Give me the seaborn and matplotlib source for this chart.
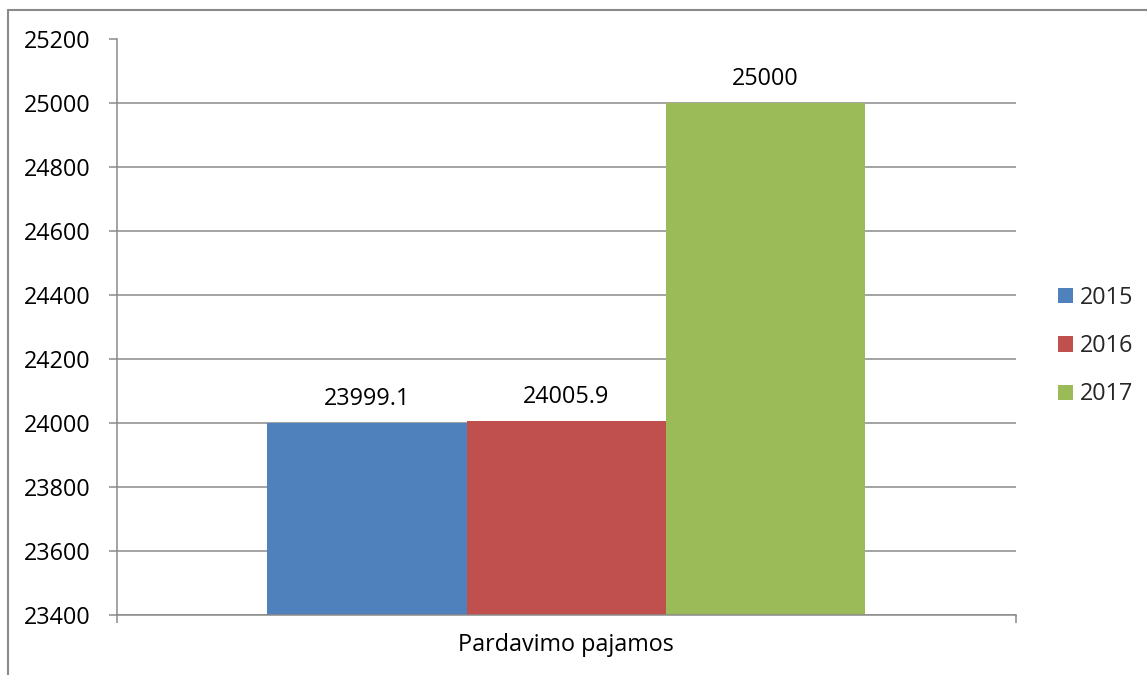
import matplotlib
matplotlib.use("Agg")
import matplotlib.pyplot as plt
from matplotlib.lines import Line2D
import seaborn as sns
import pandas as pd

categories = ["Pardavimo pajamos"]
years = ["2015", "2016", "2017"]
values = [23999.1, 24005.9, 25000]
value_labels = ["23999.1", "24005.9", "25000"]
colors = ["#4F81BD", "#C0504D", "#9BBB59"]
y_ticks = list(range(23400, 25201, 200))

sns.set_theme(style="white")
plt.rcParams["font.family"] = ["Open Sans", "DejaVu Sans"]

df = pd.DataFrame({"cat": categories * len(years), "year": years, "value": values})

W, H = 1147, 675
FS = 16.8
fig = plt.figure(figsize=(W / 100, H / 100), dpi=100)
ax = fig.add_axes([117 / W, 1 - 615 / H, (1015.5 - 117) / W, (615 - 39.5) / H])

sns.barplot(data=df, x="cat", y="value", hue="year", palette=colors, width=0.666,
            saturation=1, ax=ax, legend=True, edgecolor="none", linewidth=0)

grid_c = "#8a8a8a"
ax.set_ylim(23400, 25200)
ax.set_xlim(-0.5, 0.5)
ax.set_yticks(y_ticks)
ax.set_yticklabels([str(t) for t in y_ticks], fontsize=FS, color="black")
ax.yaxis.grid(True, color=grid_c, linewidth=1.1)
ax.set_axisbelow(True)
ax.tick_params(axis="y", length=6, width=1.1, color=grid_c, pad=13, left=True, direction="out")

ax.set_xticks([-0.5, 0.5])
ax.set_xticklabels(["", ""])
ax.set_xticks([0], minor=True)
ax.set_xticklabels(categories, minor=True, fontsize=FS, color="black")
ax.tick_params(axis="x", which="major", length=6, width=1.1, color=grid_c, bottom=True, direction="out")
ax.tick_params(axis="x", which="minor", length=0, pad=13)
ax.set_xlabel("")
ax.set_ylabel("")

for s in ["top", "right"]:
    ax.spines[s].set_visible(False)
for s in ["left", "bottom"]:
    ax.spines[s].set_color(grid_c)
    ax.spines[s].set_linewidth(1.1)

for cont, lab in zip(ax.containers, value_labels):
    ax.bar_label(cont, labels=[lab], padding=9, fontsize=FS, color="black")

handles, labels = ax.get_legend_handles_labels()
ax.get_legend().remove()
fig.legend(handles, labels, loc="center left", bbox_to_anchor=(1058 / W, 1 - 346 / H),
           frameon=False, fontsize=FS, handlelength=0.65, handleheight=0.65,
           handletextpad=0.3, labelspacing=1.05, borderpad=0, borderaxespad=0)

fig.add_artist(Line2D([8 / W, 1], [1 - 10 / H, 1 - 10 / H], color=grid_c, linewidth=1.5,
                      transform=fig.transFigure))
fig.add_artist(Line2D([8 / W, 8 / W], [0, 1 - 10 / H], color=grid_c, linewidth=1.5,
                      transform=fig.transFigure))

fig.savefig("out.png", dpi=100)
